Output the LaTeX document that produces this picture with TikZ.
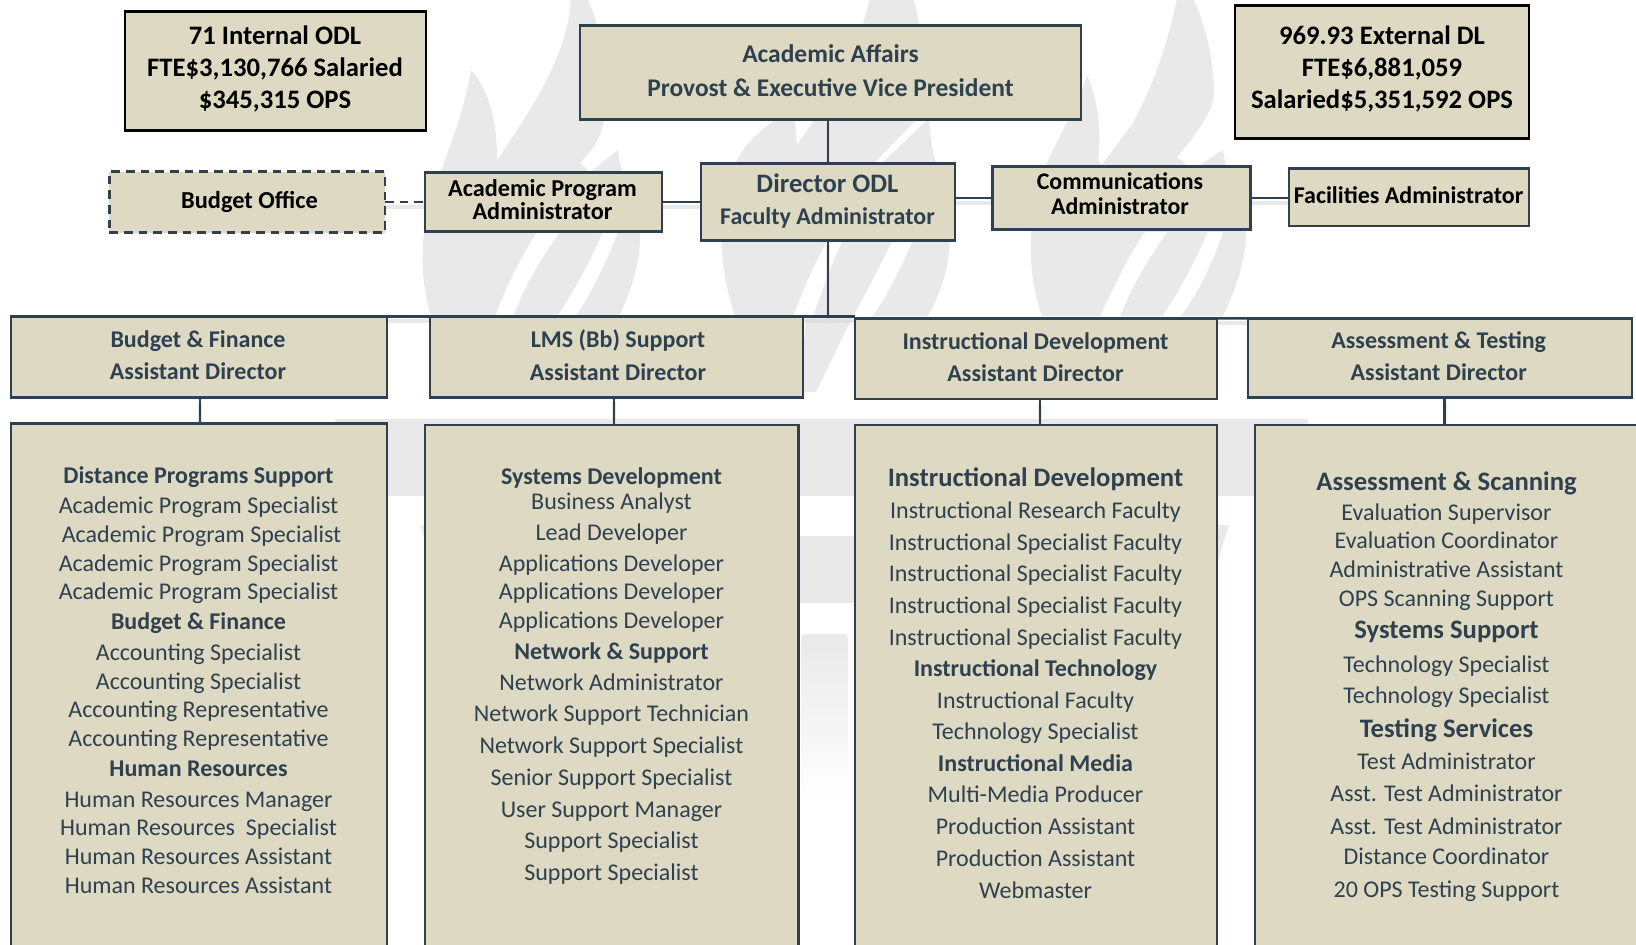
\documentclass[tikz,border=0pt]{standalone}
\usepackage{fontspec}
\setmainfont{Carlito}
\usetikzlibrary{calc}
\pgfdeclarelayer{bg}
\pgfsetlayers{bg,main}
\definecolor{tan}{HTML}{DDD9C3}
\definecolor{slate}{HTML}{2F414F}
\definecolor{wm}{HTML}{E9E9E9}
\definecolor{shade}{HTML}{D9D9D9}
\newcommand\hd{\bfseries}
\newcommand\hdl{\bfseries\fontsize{20pt}{24pt}\selectfont}
\tikzset{
  x=0.75pt,y=-0.75pt,
  box/.style args={#1/#2}{draw=slate,fill=tan,line width=1.8pt,inner sep=0pt,outer sep=0pt,
     minimum width={(#1-1)*0.75pt},minimum height={(#2-1)*0.75pt}},
  darkbox/.style={draw=black,line width=2.1pt},
  dashbox/.style={dash pattern=on 6.5pt off 4.5pt},
  boxtext/.style={align=center,inner sep=0pt,text=slate,font=\bfseries\fontsize{18pt}{24pt}\selectfont},
  blacktext/.style={boxtext,text=black},
  listline/.style={anchor=base,inner sep=0pt,text=slate,font=\fontsize{18pt}{22pt}\selectfont},
  conn/.style={draw=slate,line width=1.8pt,
     preaction={draw=shade,line width=3pt,opacity=.6,transform canvas={yshift=-3.5pt}}},
  dashconn/.style={conn,dash pattern=on 6.5pt off 4.5pt},
  flame/.style={fill=wm,draw=none},
  slit/.style={fill=white,draw=none},
}
\begin{document}
\begin{tikzpicture}
\clip (0,0) rectangle (1636,945);
% ---------- boxes ----------
\node[box=302/120,darkbox] (b71) at (275.4,71.3) {};
\node[box=502/95] (aa) at (830.6,72.7) {};
\node[box=295/134,darkbox] (b969) at (1382,72.2) {};
\node[box=276.5/62,dashbox] (bo) at (247.2,202.2) {};
\node[box=238/59.7] (ap) at (543.4,202) {};
\node[box=255/78] (dir) at (827.9,201.9) {};
\node[box=258.8/64] (comm) at (1121.5,198) {};
\node[box=240.5/58.6] (fac) at (1409,197.3) {};
\node[box=376.6/82] (bf) at (199,357) {};
\node[box=374/82] (lms) at (616.4,357) {};
\node[box=363/81.3] (idv) at (1035.9,358.6) {};
\node[box=385/80.3] (at) at (1439.9,358) {};
\node[box=376.6/547.3] (bfl) at (199,696.7) {};
\node[box=374.6/545.6] (lmsl) at (611.7,697.5) {};
\node[box=363/545.6] (idl) at (1035.9,697.5) {};
\node[box=400/545.6] (atl) at (1454.4,697.5) {};
% ---------- box texts ----------
\node[blacktext,font=\bfseries\fontsize{20pt}{24pt}\selectfont] (t71) at (275,68.7) {71 Internal ODL\\FTE\$3,130,766 Salaried\\\$345,315 OPS};
\node[boxtext,font=\bfseries\fontsize{19.1pt}{26pt}\selectfont] (taa) at (830.5,70.5) {Academic Affairs\\Provost \& Executive Vice President};
\node[blacktext,font=\bfseries\fontsize{20pt}{24pt}\selectfont] (t969) at (1382,68.7) {969.93 External DL\\FTE\$6,881,059\\Salaried\$5,351,592 OPS};
\node[blacktext,font=\bfseries\fontsize{18.3pt}{24pt}\selectfont] (tbo) at (249.5,202) {Budget Office};
\node[blacktext,font=\bfseries\fontsize{18.2pt}{17.25pt}\selectfont] (tap) at (542.5,200) {Academic Program\\Administrator};
\node[boxtext,font=\bfseries\fontsize{18pt}{24.4pt}\selectfont] (tdir) at (827.5,200.8) {{\fontsize{20pt}{24.4pt}\selectfont Director ODL}\\Faculty Administrator};
\node[blacktext,font=\bfseries\fontsize{17.9pt}{18.75pt}\selectfont] (tcomm) at (1120,193.5) {Communications\\Administrator};
\node[blacktext] (tfac) at (1408.5,195) {Facilities Administrator};
\node[boxtext,font=\bfseries\fontsize{18pt}{24.5pt}\selectfont] (tbf) at (198,355.3) {Budget \& Finance\\Assistant Director};
\node[boxtext,font=\bfseries\fontsize{18pt}{24.5pt}\selectfont] (tlms) at (618,355) {LMS (Bb) Support\\Assistant Director};
\node[boxtext,font=\bfseries\fontsize{18pt}{24.5pt}\selectfont] (tid) at (1035.5,357) {Instructional Development\\Assistant Director};
\node[boxtext,font=\bfseries\fontsize{18pt}{24.5pt}\selectfont] (tat) at (1438.7,356.3) {Assessment \& Testing\\Assistant Director};
% ---------- lists ----------
\foreach \yy/\xx/\ltxt [count=\i] in {
 475.2/198/{\hd Distance Programs Support},505.4/198/{Academic Program Specialist},534.5/201/{Academic Program Specialist},
 563/198/{Academic Program Specialist},591.7/198/{Academic Program Specialist},621.5/198/{\hd Budget \& Finance},
 652.7/198/{Accounting Specialist},681/198/{Accounting Specialist},709.6/198/{Accounting Representative},
 738.7/198/{Accounting Representative},768.8/198/{\hd Human Resources},799/198/{Human Resources Manager},
 827.8/198/{Human Resources\ \ Specialist},856.5/198/{Human Resources Assistant},885.4/198/{Human Resources Assistant}}
 {\node[listline] (ca\i) at (\xx+.5,\yy+8) {\ltxt};}
\foreach \yy/\ltxt [count=\i] in {
 476.9/{\hd Systems Development},501/{Business Analyst},532.8/{Lead Developer},563/{Applications Developer},
 591.7/{Applications Developer},620.9/{Applications Developer},651/{\hd Network \& Support},682.8/{Network Administrator},
 713.9/{Network Support Technician},745.7/{Network Support Specialist},777.5/{Senior Support Specialist},
 809/{User Support Manager},840.8/{Support Specialist},872.6/{Support Specialist}}
 {\node[listline] (cb\i) at (611.5,\yy+8) {\ltxt};}
\foreach \yy/\ltxt [count=\i] in {
 477.6/{\hdl Instructional Development},509.7/{Instructional Research Faculty},541.5/{Instructional Specialist Faculty},
 572.7/{Instructional Specialist Faculty},604.8/{Instructional Specialist Faculty},636.6/{Instructional Specialist Faculty},
 667.7/{\hd Instructional Technology},699.5/{Instructional Faculty},731.3/{Technology Specialist},762.5/{\hd Instructional Media},
 794.3/{Multi-Media Producer},826.4/{Production Assistant},858.2/{Production Assistant},889.7/{Webmaster}}
 {\node[listline] (cc\i) at (1035.5,\yy+8.5) {\ltxt};}
\foreach \yy/\ltxt [count=\i] in {
 482.3/{\hdl Assessment \& Scanning},511.7/{Evaluation Supervisor},540.5/{Evaluation Coordinator},569.6/{Administrative Assistant},
 598.1/{OPS Scanning Support},630.2/{\hdl Systems Support},664/{Technology Specialist},694.9/{Technology Specialist},
 729/{\hdl Testing Services},761.5/{Test Administrator},793.6/{Asst. Test Administrator},825.8/{Asst. Test Administrator},
 856.6/{Distance Coordinator},888.7/{20 OPS Testing Support}}
 {\node[listline] (cd\i) at (1446.5,\yy+8.3) {\ltxt};}
% ---------- watermark and connectors ----------
\begin{pgfonlayer}{bg}
 \fill[white] (0,0) rectangle (1636,945);
 % left flame
 \path[flame] (571,-2) .. controls (568,40) and (553,80) .. (497,160)
   .. controls (497,130) and (493,95) .. (471,70) .. controls (465,110) and (445,160) .. (430,200)
   .. controls (420,240) and (420,280) .. (431,316) -- (619,316)
   .. controls (632,290) and (641,260) .. (640,232) .. controls (640,205) and (620,180) .. (618,150)
   -- (590,172) -- (580,163) .. controls (600,143) and (606,125) .. (606,100)
   .. controls (606,60) and (600,25) .. (587,-2) -- cycle;
 \path[slit] (537,232) .. controls (518,262) and (505,290) .. (495,317) -- (513,317) .. controls (525,285) and (540,260) .. (560,232) -- cycle;
 \path[slit] (603,232) .. controls (590,262) and (575,290) .. (557,317) -- (575,317) .. controls (590,295) and (605,265) .. (618,232) -- cycle;
 % middle flame
 \path[flame] (870,-2) .. controls (862,30) and (850,75) .. (813,122) -- (797,145) -- (795,120) -- (780,80)
   -- (772,122) .. controls (755,135) and (745,145) .. (737,160) .. controls (722,195) and (712,245) .. (735,316)
   -- (928,316) .. controls (945,285) and (950,260) .. (950,232) .. controls (950,200) and (932,170) .. (929,118)
   -- (880,165) -- (872,165) -- (918,118) .. controls (926,70) and (922,25) .. (913,-2) -- cycle;
 \path[flame] (806,316) -- (853,316) -- (816,392) -- (800,392) -- cycle;
 \path[slit] (828,240) .. controls (815,262) and (803,290) .. (793,317) -- (813,317) .. controls (822,290) and (832,262) .. (843,240) -- cycle;
 \path[slit] (893,240) .. controls (880,265) and (868,290) .. (853,317) -- (872,317) .. controls (888,295) and (902,265) .. (913,240) -- cycle;
 % right flame
 \path[flame] (1177,-2) .. controls (1173,17) and (1163,67) .. (1133,123) -- (1102,165) -- (1098,160)
   .. controls (1102,133) and (1098,100) .. (1087,75) .. controls (1080,100) and (1057,140) .. (1047,163)
   .. controls (1032,200) and (1022,260) .. (1042,316) -- (1223,316)
   .. controls (1240,280) and (1246,255) .. (1246,232) .. controls (1240,200) and (1226,175) .. (1223,150)
   -- (1192,170) -- (1177,157) .. controls (1197,133) and (1215,110) .. (1214,90)
   .. controls (1212,50) and (1205,25) .. (1193,-2) -- cycle;
 \path[slit] (1145,232) .. controls (1125,262) and (1112,290) .. (1100,317) -- (1120,317) .. controls (1132,285) and (1148,260) .. (1167,232) -- cycle;
 \path[slit] (1208,232) .. controls (1195,262) and (1180,290) .. (1162,317) -- (1180,317) .. controls (1197,295) and (1212,265) .. (1223,232) -- cycle;
 % lower marks
 \path[flame] (335,419) rectangle (1308,496);
 \path[flame] (420,525) -- (426,525) -- (426,542) -- cycle;
 \path[flame] (790,536) rectangle (860,603);
 \path[flame] (1216,525) -- (1229,525) -- (1216,566) -- cycle;
 \shade[top color=wm,bottom color=white,rounded corners=3pt,draw=none] (801,634) rectangle (848,802);
 % connectors
 \coordinate (dcut) at (dir.south |- lms.north);
 \coordinate (lj) at (614,397.7);
 \coordinate (ij) at (1039.7,399);
 \coordinate (aj) at (1444.5,398);
 \coordinate (bj) at (200,397.7);
 \path[conn] (dir.north |- aa.south) -- (dir.north);
 \path[conn] (dir.south) -- (dcut);
 \path[conn] (ap.east) -- (ap.east -| dir.west);
 \path[conn] (dir.east |- comm.west) -- (comm.west);
 \path[conn] (comm.east) -- (comm.east -| fac.west);
 \path[dashconn] (bo.east) -- (bo.east -| ap.west);
 \path[conn] (bf.north east) -- (lms.north west);
 \path[conn] (lms.north east) -- (lms.north east -| idv.west);
 \path[conn] (idv.north east) -- (at.north west);
 \path[conn] (bj) -- (bj |- bfl.north);
 \path[conn] (lj) -- (lj |- lmsl.north);
 \path[conn] (ij) -- (ij |- idl.north);
 \path[conn] (aj) -- (aj |- atl.north);
\end{pgfonlayer}
\end{tikzpicture}
\end{document}
